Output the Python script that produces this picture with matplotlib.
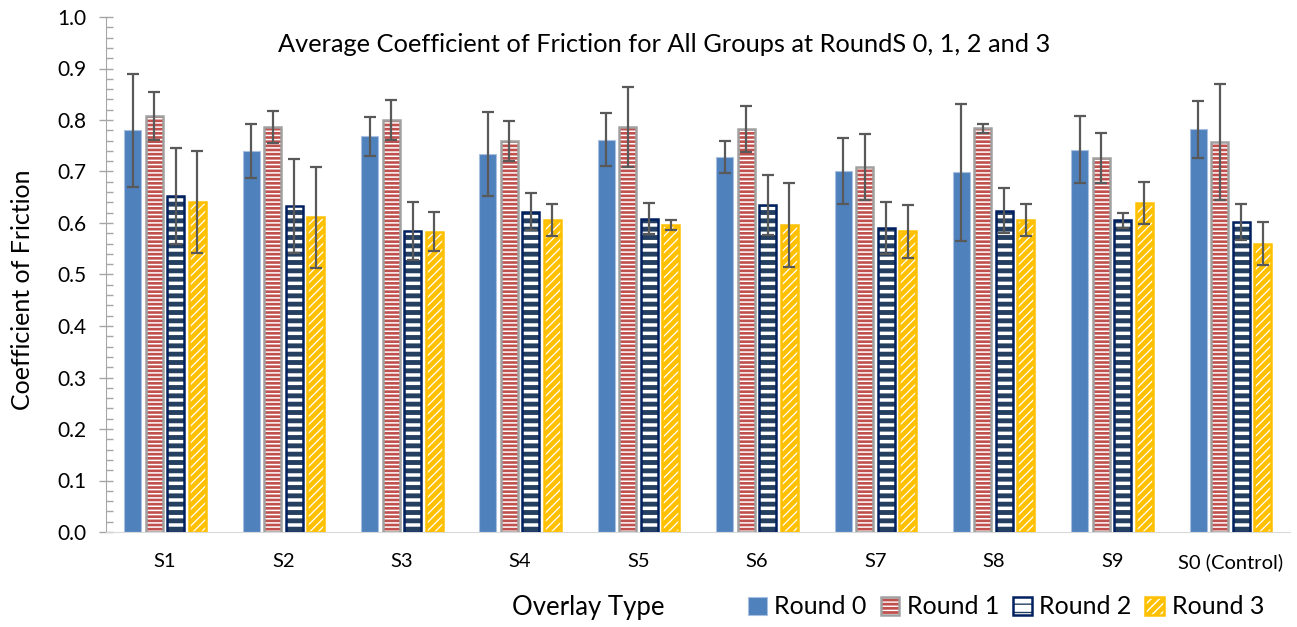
import numpy as np
import matplotlib.pyplot as plt
from matplotlib.patches import Patch
from matplotlib.ticker import MultipleLocator, FormatStrFormatter

plt.rcParams['font.family'] = ['Lato', 'DejaVu Sans']

groups = ['S1', 'S2', 'S3', 'S4', 'S5', 'S6', 'S7', 'S8', 'S9', 'S0 (Control)']
rounds = ['Round 0', 'Round 1', 'Round 2', 'Round 3']

round0 = [0.780, 0.740, 0.768, 0.734, 0.762, 0.729, 0.701, 0.699, 0.742, 0.782]
round1 = [0.808, 0.787, 0.800, 0.760, 0.787, 0.782, 0.709, 0.784, 0.726, 0.757]
round2 = [0.653, 0.633, 0.585, 0.622, 0.608, 0.635, 0.590, 0.624, 0.605, 0.602]
round3 = [0.641, 0.611, 0.583, 0.605, 0.596, 0.596, 0.584, 0.605, 0.639, 0.560]

round0_err = [0.110, 0.053, 0.037, 0.082, 0.051, 0.031, 0.065, 0.133, 0.065, 0.055]
round1_err = [0.047, 0.031, 0.039, 0.039, 0.078, 0.045, 0.064, 0.009, 0.048, 0.112]
round2_err = [0.093, 0.092, 0.056, 0.036, 0.030, 0.058, 0.051, 0.043, 0.015, 0.035]
round3_err = [0.099, 0.098, 0.038, 0.031, 0.010, 0.081, 0.051, 0.031, 0.040, 0.042]

# face, hatch colour, hatch, outline, hatch linewidth
styles = [
    ('#4F81BD', None, None, '#A9C0E0', 0),
    ('#C0504D', 'white', '----', '#A0A0A0', 1.1),
    ('white', '#243F60', '--', '#002060', 3.5),
    ('#FFC000', 'white', '////', '#FFC000', 0.9),
]
values = [round0, round1, round2, round3]
errors = [round0_err, round1_err, round2_err, round3_err]

W, H = 1297, 627
fig = plt.figure(figsize=(W / 100, H / 100), dpi=100)
ax = fig.add_axes([105.8 / W, 1 - 532 / H, 1183.9 / W, 515 / H])

x = np.arange(len(groups))
width = 0.1436
step = 0.1816
handles = []
for i, (vals, errs, st) in enumerate(zip(values, errors, styles)):
    face, hcol, hatch, edge, hlw = st
    pos = x + (i - 1.5) * step
    if hatch is None:
        ax.bar(pos, vals, width, color=face, edgecolor=edge, linewidth=0.8, zorder=2)
        h = Patch(facecolor=face, edgecolor=edge, linewidth=0.8)
    else:
        with plt.rc_context({'hatch.linewidth': hlw}):
            bars = ax.bar(pos, vals, width, color=face, edgecolor=hcol, hatch=hatch,
                          linewidth=0, zorder=2)
            hp = Patch(facecolor=face, edgecolor=hcol, hatch=hatch, linewidth=0)
        for b in list(bars) + [hp]:
            if hasattr(b, 'set_hatch_linewidth'):
                b.set_hatch_linewidth(hlw)
        ax.bar(pos, vals, width, fill=False, edgecolor=edge, linewidth=1.8, zorder=3)
        h = (hp, Patch(fill=False, edgecolor=edge, linewidth=1.8))
    handles.append(h)
    ax.errorbar(pos, vals, yerr=errs, fmt='none', ecolor='#595959', elinewidth=1.6,
                capsize=4.5, capthick=1.6, zorder=4)

ax.set_xlim(-0.5, len(groups) - 0.5)
ax.set_ylim(0, 1.0)
ax.set_xticks(x)
ax.set_xticklabels(groups, fontsize=14.5)
ax.yaxis.set_major_locator(MultipleLocator(0.1))
ax.yaxis.set_minor_locator(MultipleLocator(0.02))
ax.yaxis.set_major_formatter(FormatStrFormatter('%.1f'))
ax.tick_params(axis='x', length=0, pad=15)
ax.tick_params(axis='y', which='major', direction='inout', length=10, width=1,
               color='#A6A6A6', labelsize=15, pad=9)
ax.tick_params(axis='y', which='minor', direction='in', length=5, width=1, color='#A6A6A6')
for s in ['top', 'right']:
    ax.spines[s].set_visible(False)
ax.spines['left'].set_color('#A6A6A6')
ax.spines['bottom'].set_color('#D9D9D9')

ax.set_ylabel('Coefficient of Friction', fontsize=18)
ax.yaxis.set_label_coords(-0.061, 0.47)

fig.text(664 / W, 1 - 44 / H, 'Average Coefficient of Friction for All Groups at RoundS 0, 1, 2 and 3',
         ha='center', va='center', fontsize=18.3)
fig.text(588 / W, 1 - 608 / H, 'Overlay Type', ha='center', va='center', fontsize=18.5)
fig.legend(handles, rounds, loc='center', bbox_to_anchor=(1006 / W, 1 - 607 / H), ncol=4,
           frameon=False, fontsize=18, handlelength=0.75, handleheight=0.75,
           handletextpad=0.3, columnspacing=0.55, borderpad=0)

fig.savefig('out.png', dpi=100)
